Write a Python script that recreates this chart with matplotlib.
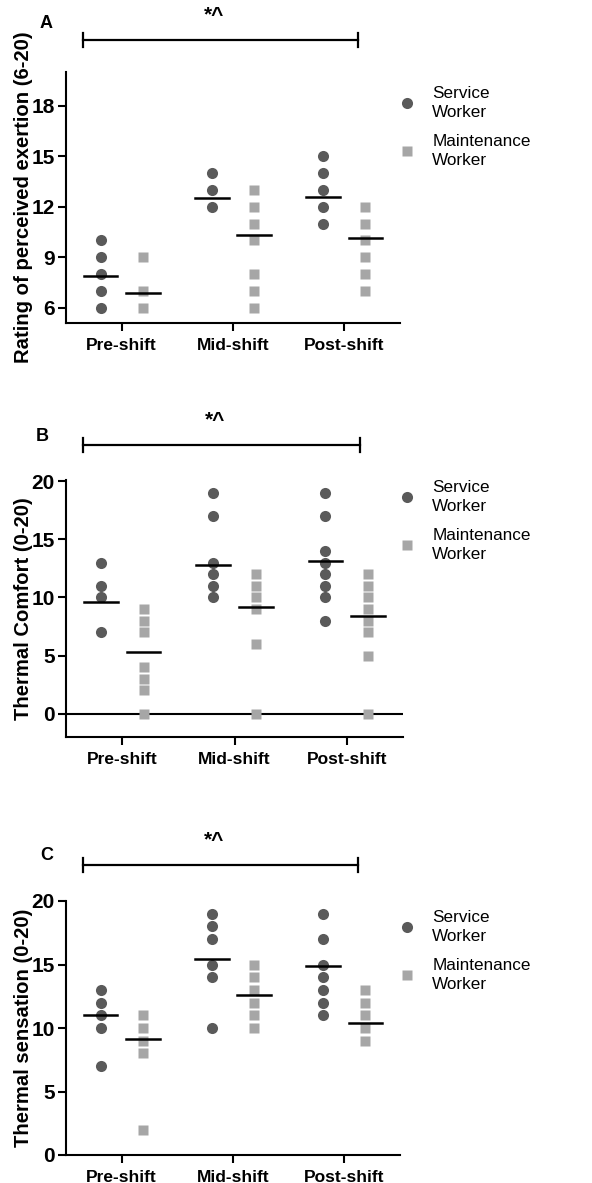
import numpy as np
import matplotlib.pyplot as plt

plt.rcParams['font.family'] = ['Liberation Sans', 'DejaVu Sans']

categories = ['Pre-shift', 'Mid-shift', 'Post-shift']

# panel A: rating of perceived exertion
rpe_service = [[6, 7, 8, 9, 10], [12, 13, 14], [11, 12, 13, 14, 15]]
rpe_maint = [[6, 7, 9], [6, 7, 8, 10, 11, 12, 13], [7, 8, 9, 10, 11, 12]]
rpe_service_mean = [7.9, 12.5, 12.6]
rpe_maint_mean = [6.9, 10.3, 10.15]

# panel B: thermal comfort
tc_service = [[7, 10, 11, 13], [10, 11, 12, 13, 17, 19], [8, 10, 11, 12, 13, 14, 17, 19]]
tc_maint = [[0, 2, 3, 4, 7, 8, 9], [0, 6, 9, 10, 11, 12], [0, 5, 7, 8, 9, 10, 11, 12]]
tc_service_mean = [9.6, 12.8, 13.1]
tc_maint_mean = [5.35, 9.2, 8.4]

# panel C: thermal sensation
ts_service = [[7, 10, 11, 12, 13], [10, 14, 15, 17, 18, 19], [11, 12, 13, 14, 15, 17, 19]]
ts_maint = [[2, 8, 9, 10, 11], [10, 11, 12, 13, 14, 15], [9, 10, 11, 12, 13]]
ts_service_mean = [11.0, 15.45, 14.85]
ts_maint_mean = [9.15, 12.6, 10.4]

C_SERV = '#5a5a5a'
C_MAINT = '#a6a6a6'
OFF = 0.19

fig = plt.figure(figsize=(5.92, 11.83), dpi=100)
H = 1183.0
W = 592.0


def panel(rect, serv, maint, serv_mean, maint_mean, ylabel, ylim, yticks, zero_line=False):
    left, top, right, bottom = rect
    ax = fig.add_axes([left / W, 1 - bottom / H, (right - left) / W, (bottom - top) / H])
    for i in range(len(categories)):
        ax.plot([i - OFF] * len(serv[i]), serv[i], 'o', color=C_SERV, ms=8,
                mec='none', clip_on=False, zorder=3)
        ax.plot([i + OFF] * len(maint[i]), maint[i], 's', color=C_MAINT, ms=7.5,
                mec='none', clip_on=False, zorder=3)
        ax.plot([i - OFF - 0.15, i - OFF + 0.15], [serv_mean[i]] * 2, color='black',
                lw=1.8, zorder=4)
        ax.plot([i + OFF - 0.15, i + OFF + 0.15], [maint_mean[i]] * 2, color='black',
                lw=1.8, zorder=4)
    if zero_line:
        ax.axhline(0, color='black', lw=1.5, zorder=2)
    ax.set_xlim(-0.5, 2.5)
    ax.set_ylim(*ylim)
    ax.set_yticks(yticks)
    ax.set_xticks(range(len(categories)))
    ax.set_xticklabels(categories, fontsize=12.5, fontweight='bold')
    for lab in ax.get_yticklabels():
        lab.set_fontsize(15)
        lab.set_fontweight('bold')
    ax.tick_params(direction='out', width=1.5, length=6, pad=2)
    ax.tick_params(axis='x', pad=5)
    for s in ['top', 'right']:
        ax.spines[s].set_visible(False)
    for s in ['left', 'bottom']:
        ax.spines[s].set_linewidth(1.5)
    ax.set_ylabel(ylabel, fontsize=14.6, fontweight='bold')
    ax.yaxis.set_label_coords((33 - left) / (right - left), 0.5)
    return ax


def bracket(ax, ybrk, ystar):
    trans = ax.get_xaxis_transform()
    x0, x1 = -0.35, 2.12
    ax.plot([x0, x1], [ybrk, ybrk], color='black', lw=1.6, transform=trans, clip_on=False)
    for x in (x0, x1):
        ax.plot([x, x], [ybrk - 0.028, ybrk + 0.028], color='black', lw=1.6,
                transform=trans, clip_on=False)
    ax.text(0.83, ystar, '*^', transform=trans, ha='center', va='center',
            fontsize=15, fontweight='bold')


def legend(ax, top_px):
    h1, = ax.plot([], [], 'o', color=C_SERV, ms=8, mec='none')
    h2, = ax.plot([], [], 's', color=C_MAINT, ms=7.5, mec='none')
    leg = ax.legend([h1, h2], ['Service\nWorker', 'Maintenance\nWorker'], loc='upper left',
                    bbox_to_anchor=(398 / W, 1 - top_px / H), bbox_transform=fig.transFigure,
                    frameon=False, fontsize=12.3, handlelength=1.0, handletextpad=1.0,
                    labelspacing=0.85, borderpad=0, borderaxespad=0)
    for t in leg.get_texts():
        t.set_linespacing(1.3)


def letter(x, y, s):
    fig.text(x / W, 1 - y / H, s, fontsize=13, fontweight='bold', ha='center', va='center')


axA = panel((66, 72, 400, 323), rpe_service, rpe_maint, rpe_service_mean, rpe_maint_mean,
            'Rating of perceived exertion (6-20)', (5.1, 20), [6, 9, 12, 15, 18])
bracket(axA, 1.127, 1.225)
legend(axA, 86)
letter(46, 24, 'A')

axB = panel((66, 480, 403, 737), tc_service, tc_maint, tc_service_mean, tc_maint_mean,
            'Thermal Comfort (0-20)', (-2, 20.1), [0, 5, 10, 15, 20], zero_line=True)
bracket(axB, 1.136, 1.232)
legend(axB, 480)
letter(42, 436, 'B')

axC = panel((66, 901, 400, 1155), ts_service, ts_maint, ts_service_mean, ts_maint_mean,
            'Thermal sensation (0-20)', (0, 20), [0, 5, 10, 15, 20])
bracket(axC, 1.142, 1.238)
legend(axC, 910)
letter(47, 856, 'C')

fig.savefig('out.png', dpi=100)
